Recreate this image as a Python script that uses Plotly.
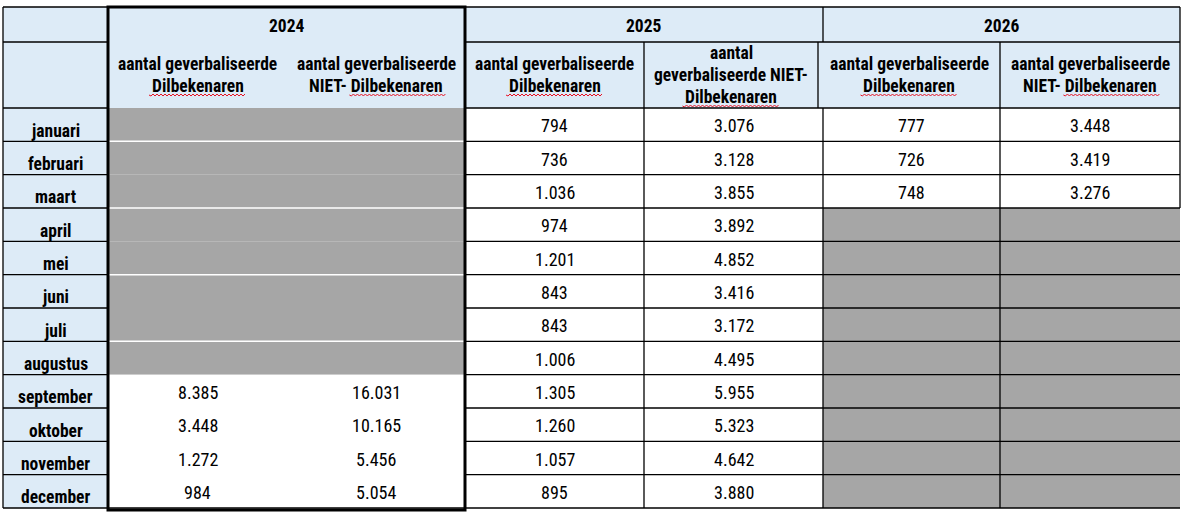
import plotly.graph_objects as go

# ---------------- data ----------------
months = ["januari", "februari", "maart", "april", "mei", "juni", "juli",
          "augustus", "september", "oktober", "november", "december"]
years = ["2024", "2025", "2026"]
word = "Dilbekenaren"
header_dil = ["aantal geverbaliseerde", "Dilbekenaren"]
header_niet = ["aantal geverbaliseerde", "NIET- Dilbekenaren"]
header_niet_2025 = ["aantal", "geverbaliseerde NIET-", "Dilbekenaren"]

dil_2024 = [None, None, None, None, None, None, None, None, 8385, 3448, 1272, 984]
niet_2024 = [None, None, None, None, None, None, None, None, 16031, 10165, 5456, 5054]
dil_2025 = [794, 736, 1036, 974, 1201, 843, 843, 1006, 1305, 1260, 1057, 895]
niet_2025 = [3076, 3128, 3855, 3892, 4852, 3416, 3172, 4495, 5955, 5323, 4642, 3880]
dil_2026 = [777, 726, 748, None, None, None, None, None, None, None, None, None]
niet_2026 = [3448, 3419, 3276, None, None, None, None, None, None, None, None, None]

series = [dil_2024, niet_2024, dil_2025, niet_2025, dil_2026, niet_2026]
subs = [header_dil, header_niet, header_dil, header_niet_2025, header_dil, header_niet]

# ---------------- layout geometry ----------------
W, H = 1187, 516
col_edges = [3, 108, 287, 465, 644, 823, 1000, 1180]
sub_edges = [3, 108, 287, 465, 644, 818, 1000, 1180]  # sub-header row dividers
y_top, y_year, y_head = 7, 42, 108
y_bottom = 508
row_h = (y_bottom - y_head) / len(months)
row_edges = [y_head + i * row_h for i in range(len(months) + 1)]
LINE_SP = 22          # header line spacing (px)
WORD_W = 97           # approx. rendered width of the underlined word
CHAR_W = 7.3          # approx. width per character in the header font

BLUE = "#DDEBF7"
GRAY = "#A6A6A6"
BLACK = "#000000"
FONT = "Roboto Condensed, Liberation Sans Narrow, DejaVu Sans Condensed, sans-serif"

def fmt(v):
    return f"{v:,}".replace(",", ".")

shapes = []
annotations = []

def rect(x0, y0, x1, y1, fill):
    shapes.append(dict(type="rect", xref="x", yref="y", x0=x0, y0=y0, x1=x1, y1=y1,
                       fillcolor=fill, line=dict(width=0), layer="below"))

def line(x0, y0, x1, y1, color=BLACK, width=1.3):
    shapes.append(dict(type="line", xref="x", yref="y", x0=x0, y0=y0, x1=x1, y1=y1,
                       line=dict(color=color, width=width), layer="above"))

def text(x, y, s, size=18, bold=False):
    annotations.append(dict(x=x, y=y, xref="x", yref="y", text=("<b>%s</b>" % s) if bold else s,
                            showarrow=False, xanchor="center", yanchor="middle",
                            font=dict(family=FONT, size=size, color=BLACK)))

def wavy(xc, y, w):
    x0 = xc - w / 2
    n = int(w / 2)
    pts = ["M%.1f,%.1f" % (x0, y)]
    for k in range(1, n + 1):
        pts.append("L%.1f,%.1f" % (x0 + 2 * k, y + (1 if k % 2 else -1)))
    shapes.append(dict(type="path", xref="x", yref="y", path=" ".join(pts),
                       line=dict(color="#E81123", width=1), layer="above"))

# header background
rect(col_edges[0], y_top, col_edges[-1], y_head, BLUE)
# month column background
rect(col_edges[0], y_head, col_edges[1], y_bottom, BLUE)
# data cells
for c, vals in enumerate(series):
    x0, x1 = col_edges[c + 1], col_edges[c + 2]
    for r, v in enumerate(vals):
        rect(x0, row_edges[r], x1, row_edges[r + 1], GRAY if v is None else "white")
        if v is not None:
            text((x0 + x1) / 2, (row_edges[r] + row_edges[r + 1]) / 2 + 1, fmt(v), size=18)

# month labels
for r, m in enumerate(months):
    text((col_edges[0] + col_edges[1]) / 2, row_edges[r] + 22.5, m, size=17.5, bold=True)

# year headers
for i, yv in enumerate(years):
    x0, x1 = col_edges[1 + 2 * i], col_edges[3 + 2 * i]
    text((x0 + x1) / 2, (y_top + y_year) / 2 + 1, yv, size=17.5, bold=True)

# sub headers (one annotation per line, with a wavy spell-check underline)
for c, lines_ in enumerate(subs):
    x0, x1 = sub_edges[c + 1], sub_edges[c + 2]
    xc = (x0 + x1) / 2
    yc = (y_year + y_head) / 2
    n = len(lines_)
    for k, ln in enumerate(lines_):
        yl = yc + (k - (n - 1) / 2) * LINE_SP
        text(xc, yl, ln, size=17.5, bold=True)
        if ln.endswith(word):
            extra = (len(ln) - len(word)) * CHAR_W
            wavy(xc + extra / 2, yl + 9, WORD_W)

# ---------- grid lines ----------
x2024_0, x2024_1 = col_edges[1], col_edges[3]
last_2026 = max(i for i, v in enumerate(niet_2026) if v is not None) + 1
# top and bottom borders
line(col_edges[0], y_top, col_edges[-1], y_top)
line(col_edges[0], y_bottom, col_edges[-1], y_bottom)
# year / subheader divider (not inside 2024 block)
line(col_edges[0], y_year, x2024_0, y_year)
line(x2024_1, y_year, col_edges[-1], y_year)
# horizontal row lines
for r in range(len(months)):
    y = row_edges[r]
    line(col_edges[0], y, col_edges[1], y)
    line(x2024_1, y, col_edges[-1], y)
# white separators inside the grey 2024 block
for r in range(1, len(months)):
    if dil_2024[r - 1] is None and dil_2024[r] is None and r % 2 == 1:
        line(x2024_0, row_edges[r], x2024_1, row_edges[r], color="white", width=1.5)
# vertical lines
line(col_edges[0], y_top, col_edges[0], y_bottom)
line(col_edges[4], y_year, col_edges[4], y_bottom)      # between 2025 columns
line(col_edges[5], y_top, col_edges[5], y_year)         # 2025 | 2026 year row
line(sub_edges[5], y_year, sub_edges[5], y_head)        # 2025 | 2026 sub header
line(col_edges[5], y_head, col_edges[5], y_bottom)      # 2025 | 2026 data rows
line(col_edges[6], y_year, col_edges[6], y_bottom)      # between 2026 columns
line(col_edges[7], y_top, col_edges[7], row_edges[last_2026])
# thick border around 2024
shapes.append(dict(type="rect", xref="x", yref="y", x0=x2024_0, y0=y_top, x1=x2024_1, y1=y_bottom + 2,
                   line=dict(color=BLACK, width=3), fillcolor="rgba(0,0,0,0)", layer="above"))

fig = go.Figure()
fig.add_trace(go.Scatter(x=[0, W], y=[0, H], mode="markers", marker=dict(opacity=0),
                         hoverinfo="skip", showlegend=False))
fig.update_layout(
    width=W, height=H,
    margin=dict(l=0, r=0, t=0, b=0),
    paper_bgcolor="white", plot_bgcolor="white",
    xaxis=dict(range=[0, W], visible=False, fixedrange=True),
    yaxis=dict(range=[H, 0], visible=False, fixedrange=True),
    shapes=shapes, annotations=annotations,
    showlegend=False,
)
fig.write_html("out.html", post_script="document.body.style.margin='0';",
               config={"displayModeBar": False})
